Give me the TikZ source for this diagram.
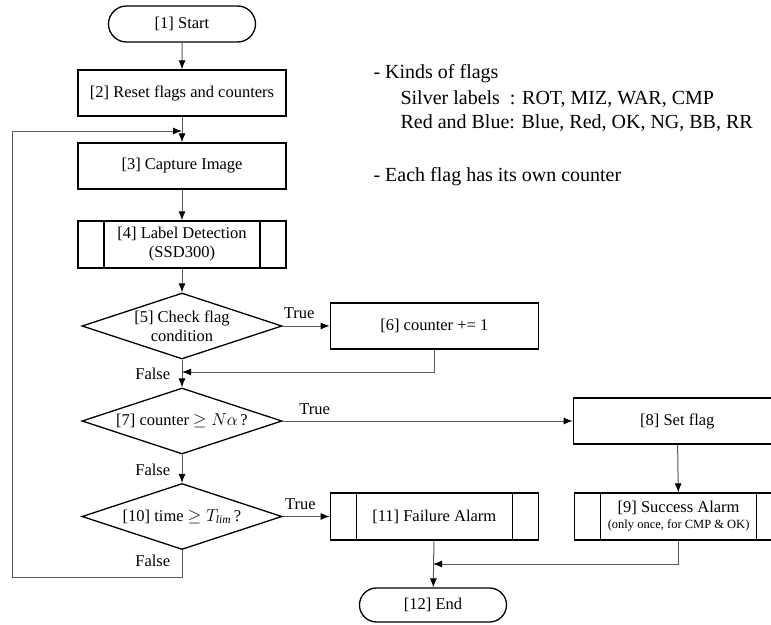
\documentclass[tikz,border=0pt]{standalone}
\usepackage{fontspec}
\setmainfont{Liberation Serif}
\usepackage{amsmath}
\usepackage{tikz}
\usetikzlibrary{positioning, shapes.misc, shapes.geometric, arrows.meta}

\begin{document}
\begin{tikzpicture}[
        x = 1pt, y = -1pt,
        font = \fontsize{16.5}{19}\selectfont,
        Terminal/.style = {rounded rectangle, draw = black, line width = 1.3pt, minimum width = 151pt, minimum height = 36pt, inner sep = 2pt},
        % 
        Proc/.style = {rectangle, draw = black, line width = 1.3pt, minimum width = 208pt, minimum height = 46pt, inner sep = 2pt, align = center},
        % 
        SubProc/.style = {Proc, minimum height = 47pt, path picture = {
            \draw[line width = 1.3pt] ([xshift = 26pt]path picture bounding box.north west) -- ([xshift = 26pt]path picture bounding box.south west);
            \draw[line width = 1.3pt] ([xshift = -26pt]path picture bounding box.north east) -- ([xshift = -26pt]path picture bounding box.south east);}},
        % 
        Decision/.style = {diamond, aspect = 3, draw = black, line width = 1.3pt, minimum width = 200pt, minimum height = 66pt, inner sep = 0pt, align = center},
        % 
        Flow/.style = {draw = black!65, line width = 1pt, -{Latex[length = 9pt, width = 7pt, color = black]}},
        % 
        Note/.style = {anchor = base west, font = \fontsize{20}{23}\selectfont},
    ]
        \useasboundingbox (0,0) rectangle (771,624);
        \clip (0,0) rectangle (771,624);

        % Main column
        \node[Terminal] (Start) at (182,24) {[1] Start};
        \node[Proc] (Reset) at (182,93) {[2] Reset flags and counters};
        \node[Proc] (Capture) at (182,166) {[3] Capture Image};
        \node[SubProc] (Detect) at (182,244.5) {[4] Label Detection\\(SSD300)};
        \node[Decision, inner sep = -5pt] (Check) at (182,326) {[5] Check flag\\condition};
        \node[Decision] (Count) at (182,421) {[7] counter $\geq N\alpha$\,?};
        \node[Decision] (Time) at (182,516.5) {[10] time $\geq T_{\mathit{lim}}$\,?};

        % Right side
        \node[Proc] (Incr) [right = 47pt of Check] {[6] counter += 1};
        \node[Proc] (SetFlag) [right = 290pt of Count] {[8] Set flag};
        \node[SubProc] (Failure) [right = 47pt of Time] {[11] Failure Alarm};
        \node[SubProc] (Success) [right = 35pt of Failure] {[9] Success Alarm\\[-3pt]{\fontsize{12.5}{14}\selectfont (only once, for CMP \& OK)}};
        \node[Terminal, minimum height = 34pt] (End) at (433,605) {[12] End};

        % Notes
        \node[Note] (Kinds) at (370,78) {- Kinds of flags};
        \node[Note] (Silver) at (397,104) {Silver labels\ \ : ROT, MIZ, WAR, CMP};
        \node[Note] (RedBlue) at (397,128) {Red and Blue: Blue, Red, OK, NG, BB, RR};
        \node[Note] (Each) at (370,181) {- Each flag has its own counter};

        % Join points
        \coordinate (JoinA) at (182,372);
        \coordinate (JoinB) at (433,564);
        \coordinate (LoopA) at (182,577);
        \coordinate (LoopB) at (12,131);
        \coordinate (LoopIn) at (182,131);

        % Arrows main column
        \draw[Flow] (Start) to node[]{} (Reset);
        \draw[Flow] (Reset) to node[]{} (Capture);
        \draw[Flow] (Capture) to node[]{} (Detect);
        \draw[Flow] (Detect) to node[]{} (Check);
        \draw[Flow] (Check) to node[left = 8pt, pos = 0.5]{False} (Count);
        \draw[Flow] (Count) to node[left = 8pt, pos = 0.55]{False} (Time);

        % Arrows true branches
        \draw[Flow] (Check) to node[above = 4pt, pos = 0.35]{True} (Incr);
        \draw[Flow] (Incr) |- (JoinA);
        \draw[Flow] (Count) to node[above = 3pt, pos = 0.11]{True} (SetFlag);
        \draw[Flow] (Time) to node[above = 3pt, pos = 0.38]{True} (Failure);

        % Arrows alarms
        \draw[Flow] (SetFlag) to node[]{} (Success);
        \draw[Flow] (Success) |- (JoinB);
        \draw[Flow] (Failure) to node[]{} (End);

        % Loop back
        \draw[Flow] (Time) -- node[left = 8pt, pos = 0.4]{False} (LoopA) -| (LoopB) -- (LoopIn);

    \end{tikzpicture}
\end{document}
